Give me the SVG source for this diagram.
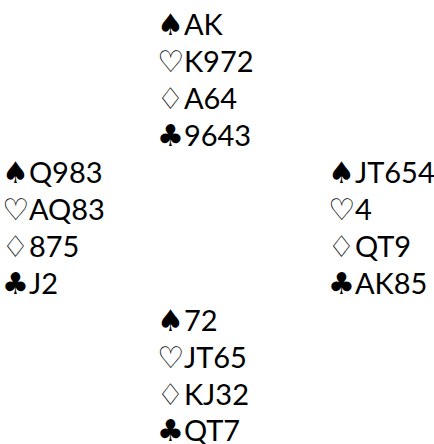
<svg xmlns="http://www.w3.org/2000/svg" width="434" height="444" viewBox="0 0 434 444">
<style>
text{font-family:"Lato","Open Sans","Liberation Sans",sans-serif;font-size:29px;fill:#000}
.s{font-family:"DejaVu Sans",sans-serif;font-size:30px}
.r{font-family:"DejaVu Sans",sans-serif;font-size:30px;fill:#000}
</style>
<rect width="434" height="444" fill="#fff"/>
<g id="north">
<text x="157" y="35"><tspan class="s">♠</tspan>AK</text>
<text x="157" y="72"><tspan class="r">♡</tspan>K972</text>
<text x="157" y="109"><tspan class="r">♢</tspan>A64</text>
<text x="157" y="146"><tspan class="s">♣</tspan>9643</text>
</g>
<g id="west">
<text x="2" y="183"><tspan class="s">♠</tspan>Q983</text>
<text x="2" y="220"><tspan class="r">♡</tspan>AQ83</text>
<text x="2" y="257"><tspan class="r">♢</tspan>875</text>
<text x="2" y="294"><tspan class="s">♣</tspan>J2</text>
</g>
<g id="east">
<text x="328" y="183"><tspan class="s">♠</tspan>JT654</text>
<text x="328" y="220"><tspan class="r">♡</tspan>4</text>
<text x="328" y="257"><tspan class="r">♢</tspan>QT9</text>
<text x="328" y="294"><tspan class="s">♣</tspan>AK85</text>
</g>
<g id="south">
<text x="157" y="331"><tspan class="s">♠</tspan>72</text>
<text x="157" y="368"><tspan class="r">♡</tspan>JT65</text>
<text x="157" y="405"><tspan class="r">♢</tspan>KJ32</text>
<text x="157" y="441"><tspan class="s">♣</tspan>QT7</text>
</g>
</svg>
